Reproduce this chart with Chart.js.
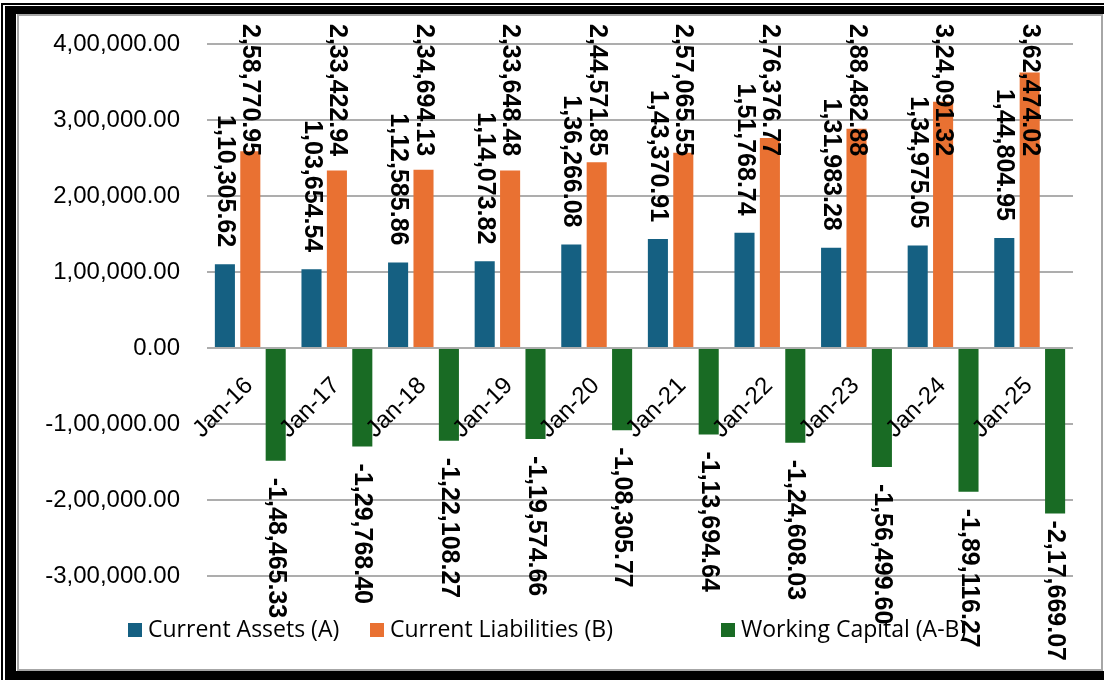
<!DOCTYPE html>
<html>
<head>
<meta charset="utf-8">
<script src="https://cdn.jsdelivr.net/npm/chart.js@4.4.1/dist/chart.umd.min.js"></script>
<style>
  html, body { margin: 0; padding: 0; background: #ffffff; }
  #wrap { position: relative; width: 1104px; height: 680px; overflow: hidden; background: #fff; }
  .blk { position: absolute; background: #000; }
  #gray { position: absolute; left: 17px; top: 14px; width: 1086px; height: 657px; border: 2px solid #A6A6A6; box-sizing: border-box; }
  canvas { position: absolute; left: 0; top: 0; }
</style>
</head>
<body>
<div id="wrap">
  <div id="gray"></div>
  <div class="blk" style="left:1px;top:3px;width:2px;height:677px;"></div>
  <div class="blk" style="left:1px;top:3px;width:1103px;height:2px;"></div>
  <div class="blk" style="left:5px;top:6px;width:11px;height:674px;"></div>
  <div class="blk" style="left:5px;top:6px;width:1099px;height:8px;"></div>
  <div class="blk" style="left:5px;top:671px;width:1099px;height:9px;"></div>
  <canvas id="c" width="1104" height="680"></canvas>
</div>
<script>
// ---- Data ----
const categories = ["Jan-16","Jan-17","Jan-18","Jan-19","Jan-20","Jan-21","Jan-22","Jan-23","Jan-24","Jan-25"];
const currentAssets = [110305.62, 103654.54, 112585.86, 114073.82, 136266.08, 143370.91, 151768.74, 131983.28, 134975.05, 144804.95];
const currentLiabilities = [258770.95, 233422.94, 234694.13, 233648.48, 244571.85, 257065.55, 276376.77, 288482.88, 324091.32, 362474.02];
const workingCapital = [-148465.33, -129768.40, -122108.27, -119574.66, -108305.77, -113694.64, -124608.03, -156499.60, -189116.27, -217669.07];
const seriesNames = ["Current Assets (A)", "Current Liabilities (B)", "Working Capital (A-B)"];
const seriesColors = ["#156082", "#E97132", "#196B24"];
const yMin = -300000, yMax = 400000, yStep = 100000;

const fmt = v => Number(v).toLocaleString('en-IN', {minimumFractionDigits: 2, maximumFractionDigits: 2});

// ---- Plugins ----
const legendPos = [128, 370, 721];
const customLegend = {
  id: 'customLegend',
  beforeDatasetsDraw(chart) {
    const ctx = chart.ctx;
    ctx.save();
    ctx.font = '23px "Open Sans", sans-serif';
    ctx.textBaseline = 'middle';
    ctx.textAlign = 'left';
    const yc = 630;
    chart.data.datasets.forEach((ds, i) => {
      const x = legendPos[i];
      ctx.fillStyle = ds.backgroundColor;
      ctx.fillRect(x, yc - 7, 14, 14);
      ctx.fillStyle = '#000';
      ctx.fillText(ds.label, x + 20, yc);
    });
    ctx.restore();
  }
};

const catLabels = {
  id: 'catLabels',
  afterDatasetsDraw(chart) {
    const ctx = chart.ctx;
    const xs = chart.scales.x, ys = chart.scales.y;
    const zy = ys.getPixelForValue(0);
    ctx.save();
    ctx.font = '24px "Liberation Sans", Arial, sans-serif';
    ctx.fillStyle = '#000';
    ctx.textAlign = 'right';
    ctx.textBaseline = 'middle';
    chart.data.labels.forEach((lab, i) => {
      const cx = xs.getPixelForValue(i);
      ctx.save();
      ctx.translate(cx - 1, zy + 34);
      ctx.rotate(-Math.PI / 4);
      ctx.fillText(lab, 0, 0);
      ctx.restore();
    });
    ctx.restore();
  }
};

const dataLabels = {
  id: 'dataLabels',
  afterDraw(chart) {
    const ctx = chart.ctx;
    const topBound = 24, bottomBound = 661, gap = 17;
    ctx.save();
    ctx.font = 'bold 25px "Liberation Sans", Arial, sans-serif';
    ctx.fillStyle = '#000';
    ctx.textBaseline = 'middle';
    chart.data.datasets.forEach((ds, d) => {
      const meta = chart.getDatasetMeta(d);
      meta.data.forEach((el, i) => {
        const v = ds.data[i];
        const txt = fmt(v);
        const len = ctx.measureText(txt).width;
        ctx.save();
        if (v >= 0) {
          let yEnd = el.y - gap;
          if (yEnd - len < topBound) yEnd = topBound + len;
          ctx.translate(el.x, yEnd);
          ctx.rotate(Math.PI / 2);
          ctx.textAlign = 'right';
        } else {
          let yStart = el.y + gap;
          if (yStart + len > bottomBound) yStart = bottomBound - len;
          ctx.translate(el.x, yStart);
          ctx.rotate(Math.PI / 2);
          ctx.textAlign = 'left';
        }
        ctx.fillText(txt, 0, 0);
        ctx.restore();
      });
    });
    ctx.restore();
  }
};

// ---- Chart ----
const seriesData = [currentAssets, currentLiabilities, workingCapital];
new Chart(document.getElementById('c'), {
  type: 'bar',
  data: {
    labels: categories,
    datasets: seriesData.map((arr, i) => ({
      label: seriesNames[i],
      data: arr,
      backgroundColor: seriesColors[i],
      borderWidth: 0,
      categoryPercentage: 0.88,
      barPercentage: 0.79
    }))
  },
  options: {
    responsive: false,
    animation: false,
    layout: { padding: { top: 44, right: 31, bottom: 104, left: 0 } },
    plugins: { legend: { display: false }, tooltip: { enabled: false } },
    scales: {
      x: { display: false },
      y: {
        min: yMin, max: yMax,
        ticks: {
          stepSize: yStep,
          callback: v => fmt(v),
          font: { family: '"Liberation Sans", Arial, sans-serif', size: 24 },
          color: '#000',
          padding: 27
        },
        grid: { color: '#ADADAD', lineWidth: 2, drawTicks: false },
        border: { display: false },
        afterFit(s) { s.width = 207; }
      }
    }
  },
  plugins: [customLegend, catLabels, dataLabels]
});
</script>
</body>
</html>
